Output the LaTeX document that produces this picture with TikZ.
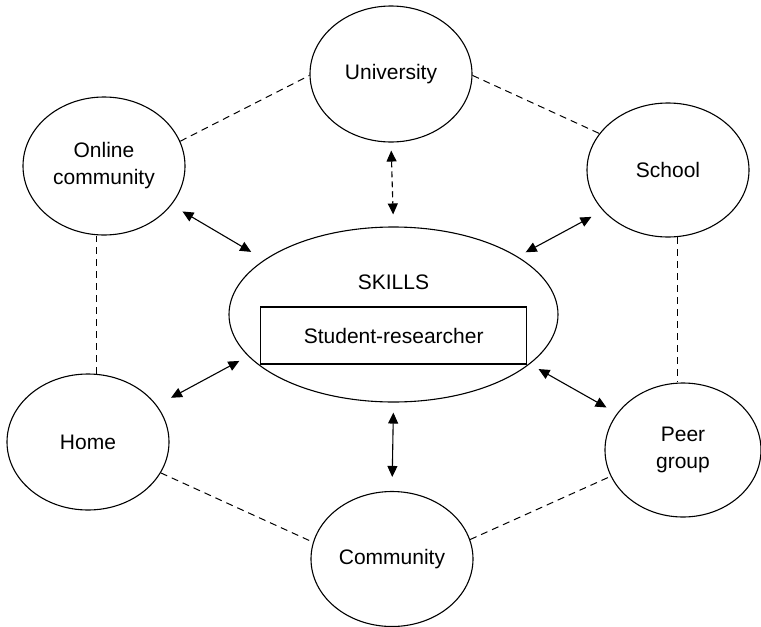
\documentclass[tikz,border=0pt]{standalone}
\usepackage{fontspec}
\setmainfont{Liberation Sans}
\usetikzlibrary{shapes.geometric,arrows.meta}
\begin{document}
\begin{tikzpicture}[x=1pt,y=-1pt,
	place/.style = {draw, ellipse, line width=1.1pt, inner sep=0pt, minimum width=162pt, minimum height=136pt, align=center, font=\fontsize{21}{27}\selectfont},
	link/.style = {line width=1pt, dash pattern=on 7pt off 5pt},
	tip/.tip = {Triangle[length=11pt,width=10pt]},
	both/.style = {line width=1.1pt, tip-tip}]
	\useasboundingbox (0,0) rectangle (761,627);
	\node[place] (university) at (391,74) {University};
	\node[place, minimum height=138pt] (online) at (104,166) {Online\\community};
	\node[place, minimum height=134pt] (school) at (668,170) {School};
	\node[place] (home) at (88,442) {Home};
	\node[place, minimum width=156pt, minimum height=134pt] (peer) at (683,450) {Peer\\group};
	\node[place, minimum height=135pt] (community) at (392,559) {Community};
	\node[place, minimum width=329pt, minimum height=175pt] (skills) at (393.5,314.5) {};
	\node[font=\fontsize{21}{27}\selectfont] (skillstext) at (393.5,282) {SKILLS};
	\node[draw, line width=1.1pt, minimum width=266pt, minimum height=57pt, font=\fontsize{21}{27}\selectfont] (student) at (393.7,335.5) {Student-researcher};
	\draw[link] (online.18) -- (university.181);
	\draw[link] (university.-1) -- (school.152);
	\draw[link] (home.83) -- (home.83 |- online.south);
	\draw[link] (school.-82) -- (school.-82 |- peer.north);
	\draw[link] (home.337) -- (community.168);
	\draw[link] (community.14) -- (peer.200);
	\draw[both, shorten <=12.7pt, shorten >=15.3pt] (online.-30) -- (skills.157);
	\draw[both, shorten <=13pt, shorten >=9pt] (school.212) -- (skills.25);
	\draw[both, shorten <=10pt, shorten >=12pt] (skills.-20) -- (peer.151);
	\draw[both, shorten <=16pt, shorten >=10pt] (home.28) -- (skills.196);
	\draw[both, shorten <=10pt, shorten >=14pt] (skills.south) -- (community.north);
	\draw[both, dash pattern=on 6pt off 4pt, shorten <=8pt, shorten >=12pt] (university.south) -- (skills.north);
\end{tikzpicture}
\end{document}
